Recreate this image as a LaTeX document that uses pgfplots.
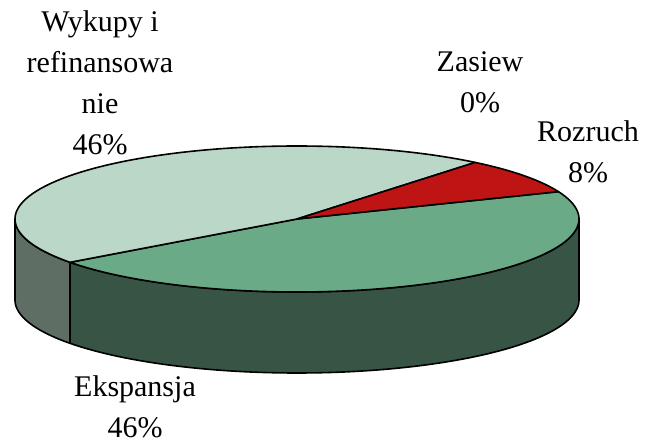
\documentclass[border=0pt]{standalone}
\usepackage{pgfplots}
\pgfplotsset{compat=1.18}
\usepackage{pgfplotstable}
\usepackage{fontspec}
\setmainfont{Liberation Serif}
\definecolor{cWyk}{HTML}{BAD7C7}
\definecolor{cEks}{HTML}{6AAA87}
\definecolor{cEksSide}{HTML}{385444}
\definecolor{cWykSide}{HTML}{5E6E65}
\definecolor{cRoz}{HTML}{BF1414}
\pgfplotstableread{
label value
Zasiew 0
Rozruch 8
Ekspansja 46
Wykupy 46
}\piedata
\pgfplotstablegetelem{0}{value}\of\piedata \let\vA\pgfplotsretval
\pgfplotstablegetelem{1}{value}\of\piedata \let\vB\pgfplotsretval
\pgfplotstablegetelem{2}{value}\of\piedata \let\vC\pgfplotsretval
\pgfplotstablegetelem{3}{value}\of\piedata \let\vD\pgfplotsretval
% geometry (pixel units of the reference, y up)
\def\cx{297}\def\cy{226}\def\R{282}\def\r{73}\def\dep{81}
\pgfmathsetmacro{\aZero}{50.8}
\pgfmathsetmacro{\aOne}{\aZero-3.6*\vA}
\pgfmathsetmacro{\aTwo}{\aOne-3.6*\vB}
\pgfmathsetmacro{\aThree}{\aTwo-3.6*\vC}
\pgfmathsetmacro{\aFour}{\aThree-3.6*\vD}
\begin{document}
\begin{tikzpicture}
\begin{axis}[
  scale only axis, width=327.5pt, height=222.5pt,
  xmin=0, xmax=655, ymin=0, ymax=445,
  hide axis, clip=false,
  every axis plot/.append style={line width=0.8pt, draw=black, line join=round},
]
\addplot[draw=none, fill=none] coordinates {(0,0) (655,445)};
% side faces (parameter 0..100 top arc, 100..200 bottom arc back)
\addplot[fill=cEksSide, samples at={0,1,...,100,100.001,101,102,...,200}, variable=\t]
 ({\cx+\R*cos(ifthenelse(\t<=100, \aThree*\t/100, \aThree-\aThree*(\t-100)/100))},
  {\cy+\r*sin(ifthenelse(\t<=100, \aThree*\t/100, \aThree-\aThree*(\t-100)/100)) - ifthenelse(\t<=100,0,\dep)}) -- cycle;
\addplot[fill=cWykSide, samples at={0,2,...,100,100.001,102,104,...,200}, variable=\t]
 ({\cx+\R*cos(ifthenelse(\t<=100, \aThree+(-180-\aThree)*\t/100, -180+(\aThree+180)*(\t-100)/100))},
  {\cy+\r*sin(ifthenelse(\t<=100, \aThree+(-180-\aThree)*\t/100, -180+(\aThree+180)*(\t-100)/100)) - ifthenelse(\t<=100,0,\dep)}) -- cycle;
% top faces
\addplot[fill=cEks, domain=\aThree:\aTwo, samples=150, variable=\t]
 ({\cx+\R*cos(\t)},{\cy+\r*sin(\t)}) -- (axis cs:\cx,\cy) -- cycle;
\addplot[fill=cWyk, domain=\aFour:\aThree, samples=150, variable=\t]
 ({\cx+\R*cos(\t)},{\cy+\r*sin(\t)}) -- (axis cs:\cx,\cy) -- cycle;
\addplot[fill=cRoz, domain=\aTwo:\aOne, samples=40, variable=\t]
 ({\cx+\R*cos(\t)},{\cy+\r*sin(\t)}) -- (axis cs:\cx,\cy) -- cycle;
% labels
\begin{scope}[every node/.style={align=center, inner sep=0pt, font=\fontsize{15}{20.5}\selectfont}]
\node at (axis cs:100,362) {Wykupy i\\refinansowa\\nie\\46\%};
\node at (axis cs:480,363) {Zasiew\\0\%};
\node at (axis cs:588,293) {Rozruch\\8\%};
\node at (axis cs:135,38) {Ekspansja\\46\%};
\end{scope}
\end{axis}
\end{tikzpicture}
\end{document}
